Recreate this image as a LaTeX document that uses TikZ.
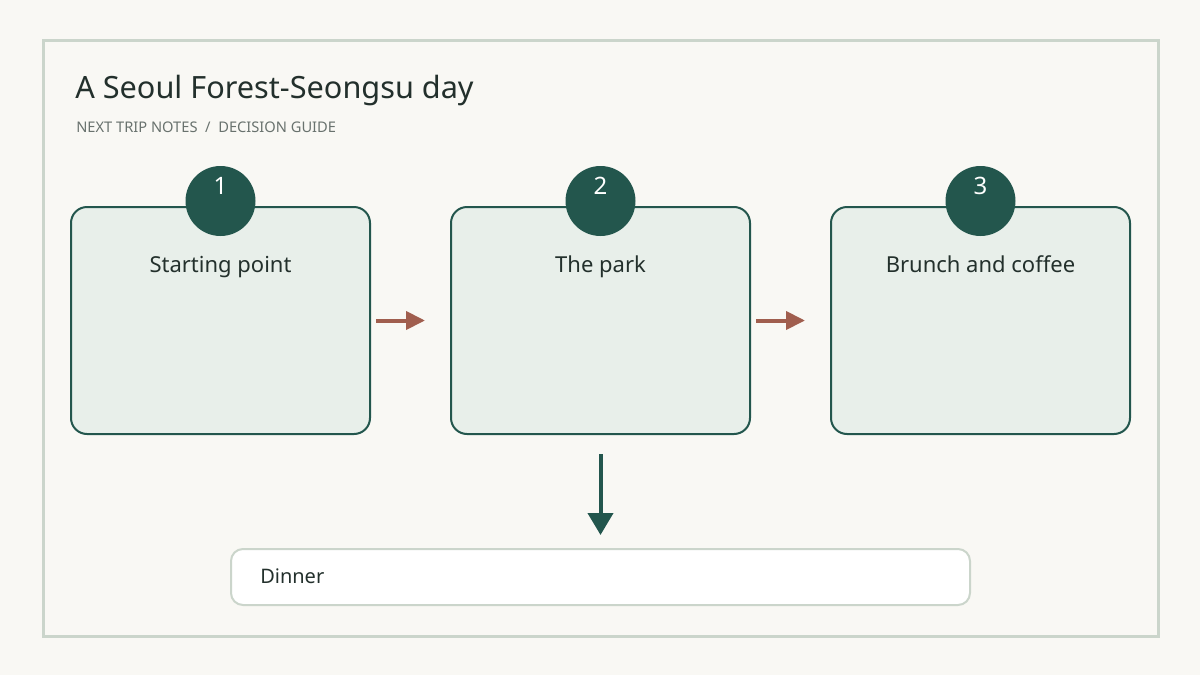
\documentclass[tikz,border=0pt]{standalone}
\usepackage{fontspec}
\setmainfont{Noto Sans}
\usetikzlibrary{arrows.meta}
\definecolor{pine}{RGB}{35,86,77}
\definecolor{mist}{RGB}{232,239,234}
\definecolor{paper}{RGB}{249,248,244}
\definecolor{sage}{RGB}{203,213,203}
\definecolor{rust}{RGB}{160,94,78}
\definecolor{ink}{RGB}{35,48,44}
\definecolor{slate}{RGB}{105,114,110}
\begin{document}
\begin{tikzpicture}[x=0.75pt,y=-0.75pt,
    stop/.style={draw=pine,line width=1.5pt,fill=mist,rounded corners=12pt,
      minimum width=224.25pt,minimum height=170.25pt,inner sep=0pt},
    badge/.style={circle,fill=pine,minimum size=52.5pt,inner sep=0pt},
    num/.style={text=white,font=\fontsize{18}{20}\selectfont},
    lbl/.style={anchor=base,inner sep=0pt,text=ink,font=\fontsize{16.5}{18}\selectfont},
    hop/.style={draw=rust,line width=3pt,-{Triangle[length=14.25pt,width=13.5pt]},
      shorten <=3.75pt,shorten >=18.75pt},
    down/.style={draw=pine,line width=3pt,-{Triangle[length=16.5pt,width=18.75pt]},
      shorten <=14.25pt,shorten >=9.75pt}]
  \fill[paper] (0,0) rectangle (1200,675);
  \draw[sage,line width=2.25pt,fill=paper] (43,40) rectangle (1158,636);
  \node[anchor=base west,inner sep=0pt,text=ink,font=\fontsize{23}{26}\selectfont] (title) at (75,98) {A Seoul Forest-Seongsu day};
  \node[anchor=west,inner sep=0pt,text=slate,font=\fontsize{11}{13}\selectfont] (sub) at (76,127) {NEXT TRIP NOTES \ / \ DECISION GUIDE};
  \node[stop] (s1) at (220.5,320.5) {};
  \node[stop] (s2) at (600.5,320.5) {};
  \node[stop] (s3) at (980.5,320.5) {};
  \node[badge] (b1) at (220.5,201) {};
  \node[badge] (b2) at (600.5,201) {};
  \node[badge] (b3) at (980.5,201) {};
  \node[num] (n1) at (220.5,186) {1};
  \node[num] (n2) at (600.5,186) {2};
  \node[num] (n3) at (980.5,186) {3};
  \node[lbl] (l1) at (220.5,272) {Starting point};
  \node[lbl] (l2) at (600.5,272) {The park};
  \node[lbl] (l3) at (980.5,272) {Brunch and coffee};
  \node[draw=sage,line width=1.5pt,fill=white,rounded corners=9pt,minimum width=554.25pt,
    minimum height=42pt,inner sep=0pt] (dinner) at (600.5,577) {};
  \node[lbl,anchor=base west,font=\fontsize{15}{17}\selectfont] (dl) at (260,583) {Dinner};
  \draw[hop] (s1.east) -- (s2.west);
  \draw[hop] (s2.east) -- (s3.west);
  \draw[down] (s2.south) -- (dinner.north);
\end{tikzpicture}
\end{document}
